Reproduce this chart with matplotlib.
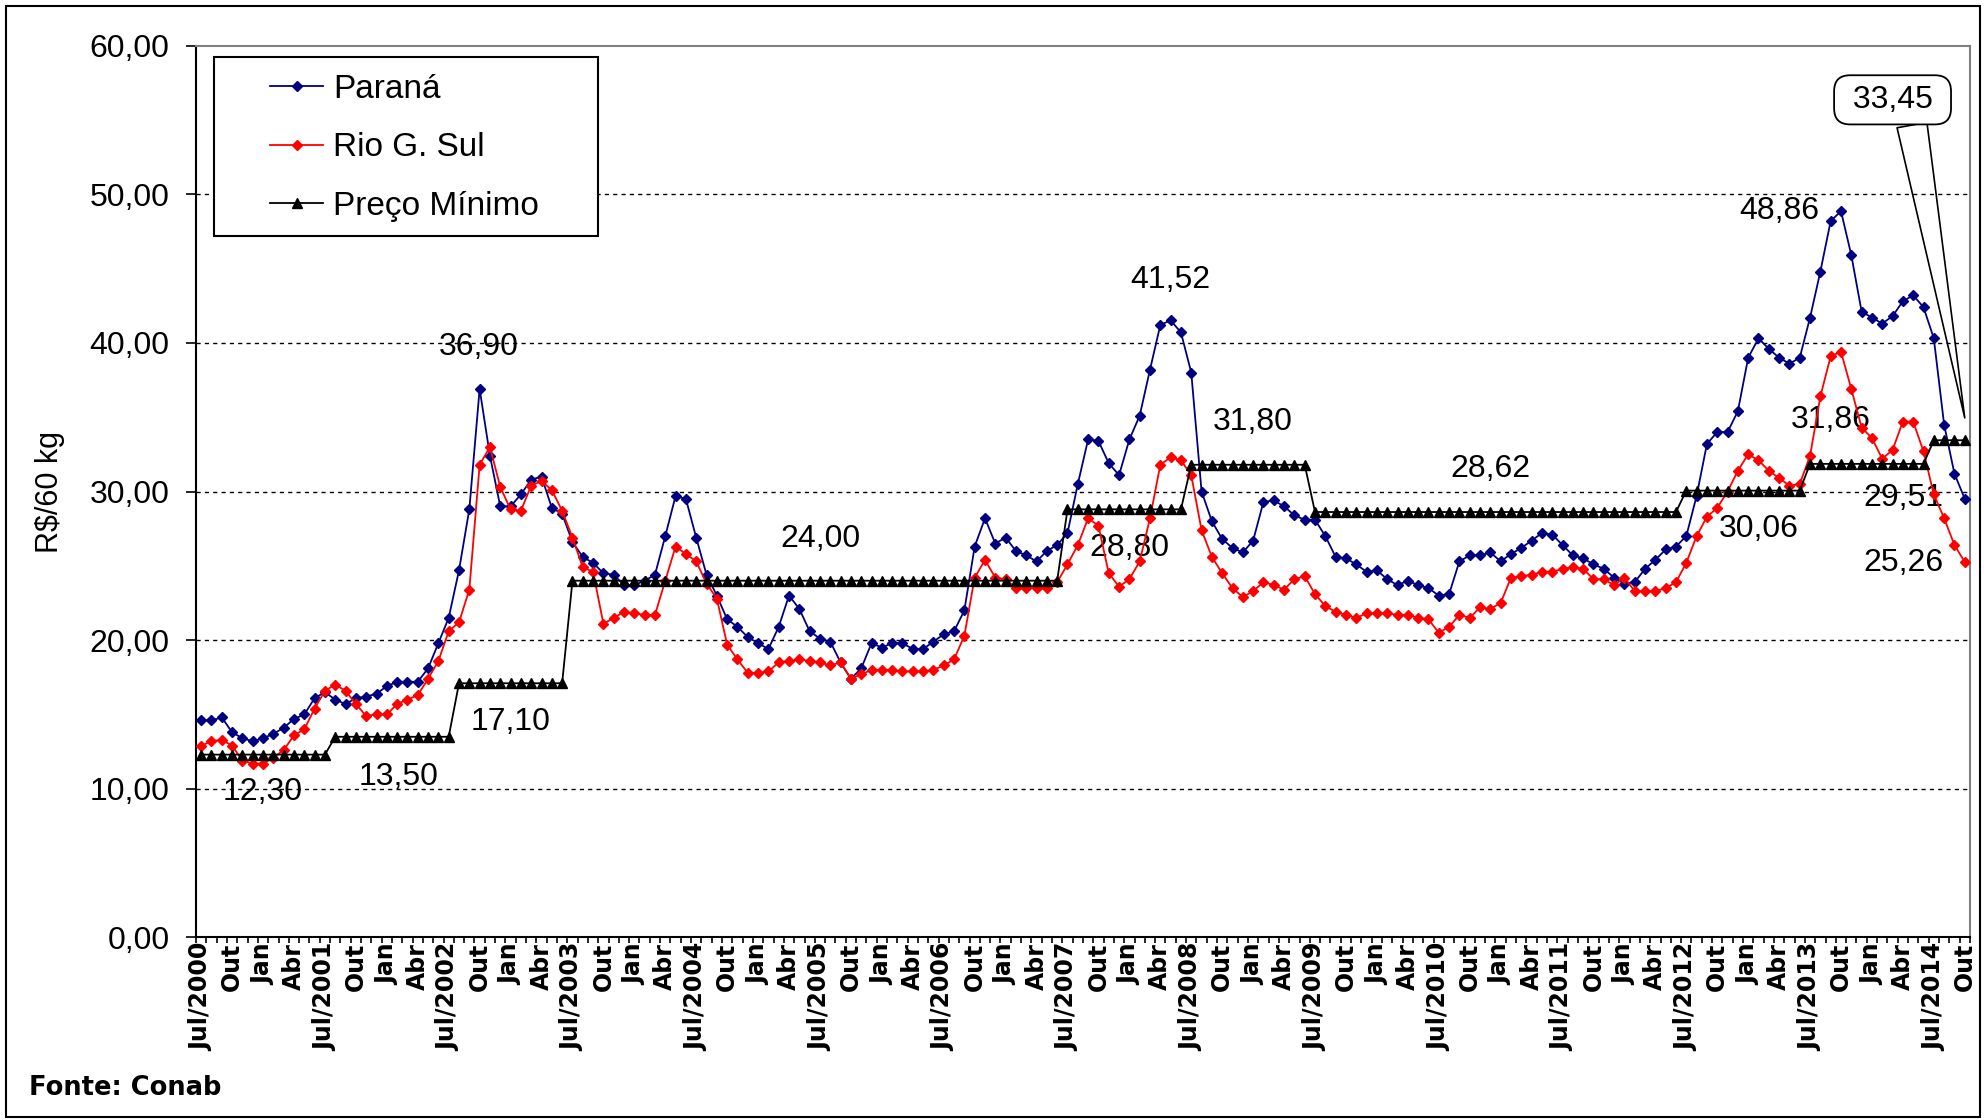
import numpy as np
import matplotlib
matplotlib.use("Agg")
import matplotlib.pyplot as plt
from matplotlib.patches import Rectangle
from matplotlib.ticker import FuncFormatter

plt.rcParams['font.family'] = ['Liberation Sans', 'DejaVu Sans']

# monthly prices, Jul/2000 .. Out/2014 (R$/60 kg), one row per Jul-Jun season
parana = [
    14.6, 14.6, 14.8, 13.8, 13.4, 13.2, 13.4, 13.7, 14.1, 14.7, 15.0, 16.1,
    16.5, 16.0, 15.7, 16.1, 16.2, 16.4, 16.9, 17.2, 17.2, 17.2, 18.1, 19.8,
    21.5, 24.7, 28.8, 36.9, 32.4, 29.0, 29.0, 29.8, 30.8, 31.0, 28.9, 28.5,
    26.6, 25.6, 25.2, 24.5, 24.4, 23.7, 23.7, 24.0, 24.4, 27.0, 29.7, 29.5,
    26.9, 24.4, 23.0, 21.4, 20.9, 20.2, 19.8, 19.4, 20.9, 23.0, 22.1, 20.6,
    20.1, 19.9, 18.5, 17.4, 18.1, 19.8, 19.5, 19.8, 19.8, 19.4, 19.4, 19.9,
    20.4, 20.6, 22.0, 26.3, 28.2, 26.5, 26.9, 26.0, 25.7, 25.3, 26.0, 26.4,
    27.2, 30.5, 33.5, 33.4, 31.9, 31.1, 33.5, 35.1, 38.2, 41.2, 41.52, 40.7,
    38.0, 30.0, 28.0, 26.8, 26.2, 25.9, 26.7, 29.3, 29.4, 29.0, 28.4, 28.1,
    28.1, 27.0, 25.6, 25.5, 25.1, 24.6, 24.7, 24.1, 23.7, 24.0, 23.7, 23.5,
    23.0, 23.1, 25.3, 25.7, 25.7, 25.9, 25.3, 25.8, 26.2, 26.7, 27.2, 27.1,
    26.4, 25.7, 25.5, 25.1, 24.8, 24.2, 23.8, 23.9, 24.8, 25.4, 26.1, 26.3,
    27.0, 29.7, 33.2, 34.0, 34.0, 35.4, 39.0, 40.3, 39.6, 39.0, 38.6, 39.0,
    41.7, 44.8, 48.2, 48.86, 45.9, 42.1, 41.7, 41.3, 41.8, 42.8, 43.2, 42.4,
    40.3, 34.5, 31.2, 29.51,
]

rio_g_sul = [
    12.9, 13.2, 13.3, 12.9, 11.9, 11.7, 11.7, 12.1, 12.6, 13.6, 14.0, 15.4,
    16.6, 17.0, 16.6, 15.7, 14.9, 15.0, 15.0, 15.7, 16.0, 16.3, 17.4, 18.6,
    20.6, 21.2, 23.4, 31.8, 33.0, 30.3, 28.8, 28.7, 30.4, 30.7, 30.1, 28.7,
    26.9, 24.9, 24.6, 21.1, 21.5, 21.9, 21.8, 21.7, 21.7, 24.0, 26.3, 25.8,
    25.3, 23.8, 22.8, 19.7, 18.7, 17.8, 17.8, 17.9, 18.5, 18.6, 18.7, 18.6,
    18.5, 18.3, 18.5, 17.4, 17.7, 18.0, 18.0, 18.0, 17.9, 17.9, 17.9, 18.0,
    18.3, 18.7, 20.3, 24.2, 25.4, 24.2, 24.1, 23.5, 23.5, 23.5, 23.5, 23.9,
    25.1, 26.4, 28.2, 27.7, 24.5, 23.6, 24.1, 25.3, 28.2, 31.8, 32.3, 32.1,
    31.1, 27.4, 25.6, 24.5, 23.5, 22.9, 23.3, 23.9, 23.7, 23.4, 24.1, 24.3,
    23.1, 22.3, 21.9, 21.7, 21.5, 21.8, 21.8, 21.8, 21.7, 21.7, 21.5, 21.4,
    20.5, 20.9, 21.7, 21.5, 22.2, 22.1, 22.5, 24.2, 24.3, 24.4, 24.6, 24.6,
    24.8, 24.9, 24.8, 24.1, 24.1, 23.7, 24.2, 23.3, 23.3, 23.3, 23.5, 23.9,
    25.2, 27.0, 28.3, 28.9, 30.0, 31.4, 32.5, 32.1, 31.4, 30.9, 30.4, 30.5,
    32.4, 36.4, 39.1, 39.4, 36.9, 34.3, 33.6, 32.2, 32.8, 34.7, 34.7, 32.7,
    29.8, 28.2, 26.4, 25.26,
]

# minimum price levels and how many months each one lasted
min_price_levels = [12.30, 13.50, 17.10, 24.00, 28.80, 31.80, 28.62, 30.06, 31.86, 33.45]
min_price_months = [13, 12, 11, 48, 12, 12, 36, 12, 12, 4]

month_names = ["Jul", "Ago", "Set", "Out", "Nov", "Dez",
               "Jan", "Fev", "Mar", "Abr", "Mai", "Jun"]
first_year = 2000

# text labels: (index into series, label x, label y)
peak_idx = [27, 94, 159]
peak_pos = [(26.9, 39.7), (94.0, 44.25), (153.0, 48.9)]
level_pos = [(6.0, 9.8), (19.1, 10.8), (30.0, 14.5), (60.0, 26.8), (90.0, 26.2),
             (102.0, 34.7), (125.0, 31.5), (151.0, 27.45), (158.0, 34.8)]
last_pos_parana = (165.0, 29.55)
last_pos_rs = (165.1, 25.2)
callout_pos = (164.0, 56.35)

LABEL_SIZE = 23


def fmt(v):
    return f"{v:.2f}".replace(".", ",")


n = len(parana)
x = np.arange(n)
preco_minimo = np.repeat(min_price_levels, min_price_months)

tick_pos = x[::3]
tick_labels = [f"Jul/{first_year + i // 12}" if i % 12 == 0 else month_names[i % 12]
               for i in tick_pos]

fig = plt.figure(figsize=(19.86, 11.2), dpi=100)
ax = fig.add_axes([0.0987, 0.1630, 0.8932, 0.7963])

ax.plot(x, parana, color="#000080", lw=1.3, marker="D", ms=5.2,
        label="Paraná", zorder=3)
ax.plot(x, rio_g_sul, color="#FF0000", lw=1.3, marker="D", ms=5.2,
        label="Rio G. Sul", zorder=4)
ax.plot(x, preco_minimo, color="black", lw=1.3, marker="^", ms=7.2,
        label="Preço Mínimo", zorder=5)

ax.set_xlim(-0.5, n - 0.5)
ax.set_ylim(0, 60)
yt = np.arange(0, 61, 10)
ax.set_yticks(yt)
ax.yaxis.set_major_formatter(FuncFormatter(lambda v, _: fmt(v)))
ax.hlines(yt[1:-1], -0.5, n - 0.5, colors="black", linestyles=(0, (3, 3)),
          lw=1.0, zorder=1)

for s in ("left", "bottom"):
    ax.spines[s].set_color("black")
    ax.spines[s].set_linewidth(1.5)
for s in ("top", "right"):
    ax.spines[s].set_color("#808080")
    ax.spines[s].set_linewidth(1.5)

ax.tick_params(axis="y", direction="out", length=7, width=1.2, pad=12,
               labelsize=LABEL_SIZE)
ax.set_xticks(tick_pos)
ax.set_xticklabels(tick_labels, rotation=90, fontsize=17, fontweight="bold",
                   family="DejaVu Sans")
ax.set_xticks(np.arange(-0.5, n, 1), minor=True)
ax.tick_params(axis="x", which="major", length=0, pad=4)
ax.tick_params(axis="x", which="minor", direction="out", length=4.5, width=1.2)

ax.set_ylabel(r"R\$/60 kg", fontsize=22)
ax.yaxis.set_label_coords(-0.0737, 0.5)

# value labels
for i, (lx, ly) in zip(peak_idx, peak_pos):
    ax.text(lx, ly, fmt(parana[i]), fontsize=LABEL_SIZE, ha="center", va="center",
            zorder=2.5)
for lev, (lx, ly) in zip(min_price_levels[:-1], level_pos):
    ax.text(lx, ly, fmt(lev), fontsize=LABEL_SIZE, ha="center", va="center",
            zorder=2.5)
ax.text(*last_pos_parana, fmt(parana[-1]), fontsize=LABEL_SIZE, ha="center",
        va="center", zorder=2.5)
ax.text(*last_pos_rs, fmt(rio_g_sul[-1]), fontsize=LABEL_SIZE, ha="center",
        va="center", zorder=2.5)

ax.annotate(" " + fmt(min_price_levels[-1]) + " ",
            xy=(x[-1], preco_minimo[-1] + 1.5), xytext=callout_pos,
            fontsize=LABEL_SIZE, ha="center", va="center", zorder=8,
            bbox=dict(boxstyle="round,pad=0.3,rounding_size=0.5",
                      fc="white", ec="black", lw=1.3),
            arrowprops=dict(arrowstyle="wedge,tail_width=0.95,shrink_factor=0.5",
                            fc="none", ec="black", lw=1.2, relpos=(0.68, 0.0),
                            shrinkA=0, shrinkB=0))

# legend with a square frame
ax.add_patch(Rectangle((0.0101, 0.7865), 0.2165, 0.2007, transform=ax.transAxes,
                       fc="white", ec="black", lw=1.5, zorder=6))
leg = ax.legend(loc="upper left", bbox_to_anchor=(0.0417, 0.968), frameon=False,
                fontsize=24, handlelength=1.6, handletextpad=0.3,
                labelspacing=0.82, borderpad=0, borderaxespad=0)
leg.set_zorder(7)

fig.text(29 / 1986, 1 - 1088 / 1120, "Fonte: Conab", fontsize=18.5,
         fontweight="bold", family="DejaVu Sans", ha="left", va="center")

fig.add_artist(Rectangle((6 / 1986, 3 / 1120), 1974 / 1986, 1111 / 1120,
                         transform=fig.transFigure, fill=False, ec="black", lw=1.5))

fig.savefig("out.png", dpi=100)
